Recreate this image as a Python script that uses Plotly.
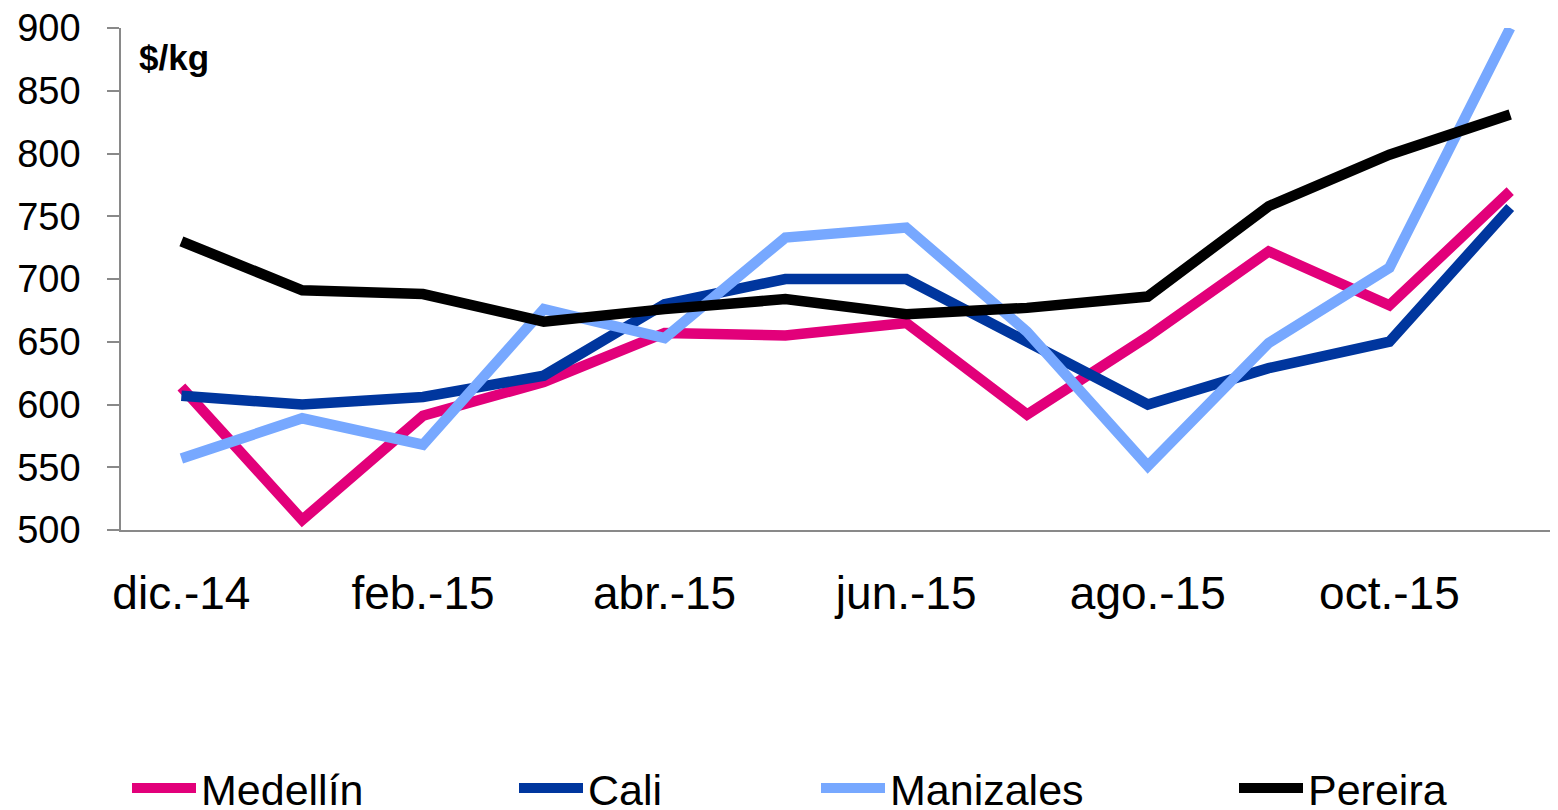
import plotly.graph_objects as go

months = ["dic.-14", "ene.-15", "feb.-15", "mar.-15", "abr.-15", "may.-15",
          "jun.-15", "jul.-15", "ago.-15", "sep.-15", "oct.-15", "nov.-15"]
medellin = [614, 508, 591, 618, 657, 655, 665, 592, 654, 722, 679, 770]
cali = [607, 600, 606, 623, 680, 700, 700, 649, 600, 629, 650, 757]
manizales = [557, 589, 568, 676, 653, 733, 741, 658, 551, 649, 709, 900]
pereira = [730, 691, 688, 666, 676, 684, 672, 677, 686, 758, 799, 831]
y_ticks = [500, 550, 600, 650, 700, 750, 800, 850, 900]

series = [
    ("Medellín", medellin, "#E2007A", "legend", 133),
    ("Cali", cali, "#00369E", "legend2", 520),
    ("Manizales", manizales, "#77A8FF", "legend3", 822),
    ("Pereira", pereira, "#000000", "legend4", 1240),
]

W, H = 1558, 810
OFF = 8  # page body margin
L, T, B = 121 - OFF, 28 - OFF, 530 - OFF
fig = go.Figure()
for name, vals, color, leg, _ in series:
    fig.add_trace(go.Scatter(
        x=months, y=vals, name=name, mode="lines",
        line=dict(color=color, width=10.5),
        legend=leg,
    ))

legend_font = dict(family="Liberation Sans, Arial, sans-serif", size=43, color="#000000")
leg_layout = {}
for name, vals, color, leg, xpx in series:
    leg_layout[leg] = dict(
        xref="container", yref="container",
        x=(xpx - 14) / W, y=1 - 780 / H,
        xanchor="left", yanchor="middle",
        orientation="h", font=legend_font,
        bgcolor="rgba(0,0,0,0)", borderwidth=0,
        itemwidth=64,
    )

px_per_cat = 120.8
xmax = -0.5 + (W - L) / px_per_cat

fig.update_layout(
    width=W, height=H,
    margin=dict(l=L, r=0, t=T, b=H - B, autoexpand=False),
    plot_bgcolor="white", paper_bgcolor="white",
    showlegend=True,
    xaxis=dict(
        type="category", categoryorder="array", categoryarray=months,
        range=[-0.5, xmax],
        tickvals=months[::2], ticktext=months[::2],
        showgrid=False, zeroline=False,
        showline=True, linecolor="#898989", linewidth=1.5,
        ticks="", ticklabelstandoff=22,
        tickfont=dict(family="Liberation Sans, Arial, sans-serif", size=46, color="#000000"),
    ),
    yaxis=dict(
        range=[500, 900], tickvals=y_ticks,
        showgrid=False, zeroline=False,
        showline=True, linecolor="#898989", linewidth=1.5,
        ticks="outside", ticklen=12, tickcolor="#898989", tickwidth=1.5,
        ticklabelstandoff=19, ticklabeloverflow="allow",
        tickfont=dict(family="Liberation Sans, Arial, sans-serif", size=38, color="#000000"),
    ),
    annotations=[dict(
        text="<b>$/kg</b>", xref="paper", yref="paper",
        x=(137 - 121) / (W - L), y=1 - (58 - 28) / (530 - 28),
        xanchor="left", yanchor="middle", showarrow=False,
        font=dict(family="Liberation Sans, Arial, sans-serif", size=35, color="#000000"),
    )],
    **leg_layout,
)

fig.write_html("out.html")
